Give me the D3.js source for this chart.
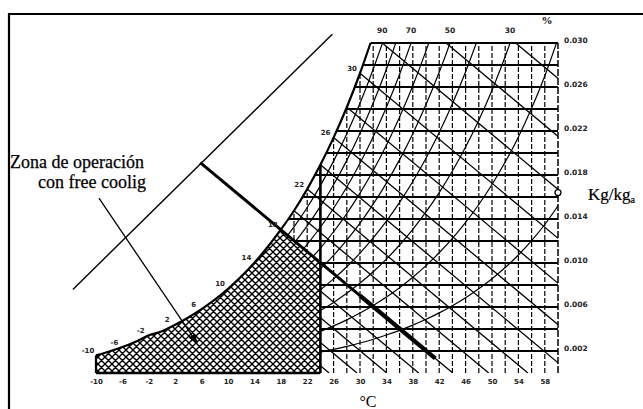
<!DOCTYPE html>
<html><head><meta charset="utf-8">
<script src="https://cdn.jsdelivr.net/npm/d3@7"></script>
<style>
html,body{margin:0;padding:0;background:#fff;}
svg{display:block;}
</style></head><body>
<svg id="c" width="643" height="409"></svg>
<script>
// ---------- data ----------
const satT = [-10,-8,-6,-4,-2,0,2,4,6,8,10,12,14,16,18,20,22,24,26,28,30,32,34,36,38,40,42,44,46,48,50,52,54,56,58,60];
const satW = [0.00160,0.00195,0.00236,0.00285,0.00342,0.00379,0.00438,0.00505,0.00580,0.00666,0.00766,0.00877,0.01003,0.01145,0.01303,0.01475,0.01672,0.01893,0.02140,0.02416,0.02725,0.03069,0.03452,0.03879,0.04352,0.04880,0.05467,0.06120,0.06848,0.07660,0.08570,0.09590,0.1073,0.1203,0.1350,0.1520];
const tempTicks = [-10,-6,-2,2,6,10,14,18,22,26,30,34,38,42,46,50,54,58];
const humTicks = [0.002,0.006,0.010,0.014,0.018,0.022,0.026,0.030];
const humLines = [0.002,0.004,0.006,0.008,0.010,0.012,0.014,0.016,0.018,0.020,0.022,0.024,0.026,0.028];
const dryBulbLines = [-8,-6,-4,-2,0,2,4,6,8,10,12,14,16,18,20,22,24,26,28,30,32,34,36,38,40,42,44,46,48,50,52,54,56,58];
const rhLevels = [0.1,0.2,0.3,0.4,0.5,0.6,0.7,0.8,0.9];
const rhLabels = [90,70,50,30];
const wetBulbLines = [-10,-8,-6,-4,-2,0,2,4,6,8,10,12,14,16,18,20,22,24,26,28,30,32,34,36];
const dewLabels = [-10,-6,-2,2,6,10,14,18,22,26,30];
const wetBulbSlope = 0.0005;       // kg/kg per °C
const limitT = 24;                 // free-cooling dry-bulb limit
const limitWetBulb = 18;           // free-cooling wet-bulb limit
const boldRange = [5.8, 30, 41.4];
const refLine = [[-13.5,0.0076],[25.8,0.0308]];
const arrowPts = [[-9.55,0.0159],[5.3,0.00273]];
const markerPoint = [60,0.0164];
const wTop = 0.030, tMin = -10, tMax = 60;

// ---------- scales ----------
const svg = d3.select("#c");
const x = d3.scaleLinear().domain([tMin,tMax]).range([96,558]);
const y = d3.scaleLinear().domain([0,wTop]).range([373,43]);

const wsat = T => {
  const i = Math.max(1, Math.min(satT.length-1, d3.bisectLeft(satT, T)));
  const t0 = satT[i-1], t1 = satT[i], f = (T-t0)/(t1-t0);
  return satW[i-1] + f*(satW[i]-satW[i-1]);
};
function crossT(factor, target){
  for (let i=1;i<satT.length;i++){
    const a=factor*satW[i-1], b=factor*satW[i];
    if (a<target && b>=target) return satT[i-1]+(target-a)/(b-a)*(satT[i]-satT[i-1]);
  }
  return null;
}
const wb = (twb, T) => wsat(twb) - wetBulbSlope*(T-twb);

const line = d3.line().x(d=>x(d[0])).y(d=>y(d[1]));
const curve = d3.line().x(d=>x(d[0])).y(d=>y(d[1])).curve(d3.curveMonotoneX);

const tSatTop = crossT(1, wTop);
const satPts = satT.map((t,i)=>[t,satW[i]]).filter(p=>p[1]<wTop);
satPts.push([tSatTop,wTop]);

const defs = svg.append("defs");
defs.append("clipPath").attr("id","region").append("path")
  .attr("d", curve(satPts)+`L${x(tMax)},${y(wTop)}L${x(tMax)},${y(0)}L${x(tMin)},${y(0)}Z`);
const pat = defs.append("pattern").attr("id","hatch").attr("patternUnits","userSpaceOnUse")
  .attr("width",7).attr("height",7);
pat.append("rect").attr("width",7).attr("height",7).attr("fill","#fff");
pat.append("path").attr("d","M-1,-1L8,8M8,-1L-1,8M6,-1L8,1M-1,6L1,8M1,-1L-1,1M8,6L6,8")
  .attr("stroke","#000").attr("stroke-width",1.4);
defs.append("marker").attr("id","ah").attr("markerUnits","userSpaceOnUse")
  .attr("markerWidth",12).attr("markerHeight",12).attr("refX",9).attr("refY",4)
  .attr("orient","auto").append("path").attr("d","M0,0L10,4L0,8Z").attr("fill","#000");

// ---------- frame ----------
svg.append("path").attr("d","M9,409L9,14L643,14").attr("fill","none").attr("stroke","#000").attr("stroke-width",2.2);

// ---------- clipped grid ----------
const g = svg.append("g").attr("clip-path","url(#region)").attr("fill","none").attr("stroke","#000");
g.selectAll(".db").data(dryBulbLines).join("path")
  .attr("d",t=>line([[t,0],[t,wTop]])).attr("stroke-width",1.2).attr("stroke-dasharray","5,2");
g.selectAll(".hl").data(humLines).join("path")
  .attr("d",w=>line([[tMin,w],[tMax,w]])).attr("stroke-width",1.8);
g.selectAll(".rh").data(rhLevels).join("path")
  .attr("d",r=>curve(satT.map((t,i)=>[t,r*satW[i]]))).attr("stroke-width",1.2);
g.selectAll(".wb").data(wetBulbLines).join("path")
  .attr("d",t=>line([[t,wsat(t)],[t+wsat(t)/wetBulbSlope,0]])).attr("stroke-width",1.3);

// ---------- hatched free-cooling zone ----------
const hatchPts = satPts.filter(p=>p[0]<=limitWetBulb);
svg.append("path")
  .attr("d", curve(hatchPts)+`L${x(limitT)},${y(wb(limitWetBulb,limitT))}L${x(limitT)},${y(0)}L${x(tMin)},${y(0)}Z`)
  .attr("fill","url(#hatch)");

// ---------- outlines ----------
const ol = svg.append("g").attr("fill","none").attr("stroke","#000");
ol.append("path").attr("d",curve(satPts)).attr("stroke-width",2.2);
ol.append("path").attr("d",line([[tSatTop,wTop],[tMax,wTop]])).attr("stroke-width",2);
ol.append("path").attr("d",line([[tMax,0],[tMax,wTop]])).attr("stroke-width",1.5).attr("stroke-dasharray","7,2");
ol.append("path").attr("d",line([[tMin,0],[tMin,wsat(tMin)]])).attr("stroke-width",2.2);
ol.append("path").attr("d",line([[tMin,0],[limitT,0]])).attr("stroke-width",2.6);
ol.append("path").attr("d",line([[limitT,0],[limitT,wsat(limitT)]])).attr("stroke-width",2.6);
ol.append("path").attr("d",line([[boldRange[0],wb(limitWetBulb,boldRange[0])],[boldRange[1],wb(limitWetBulb,boldRange[1])]])).attr("stroke-width",3);
ol.append("path").attr("d",line([[boldRange[1],wb(limitWetBulb,boldRange[1])],[boldRange[2],wb(limitWetBulb,boldRange[2])]])).attr("stroke-width",4.4);
ol.append("path").attr("d",line(refLine)).attr("stroke-width",1.4);
ol.append("path").attr("d",line(arrowPts)).attr("stroke-width",1.3).attr("marker-end","url(#ah)");
svg.append("circle").attr("cx",x(markerPoint[0])).attr("cy",y(markerPoint[1])).attr("r",3)
  .attr("fill","#fff").attr("stroke","#000").attr("stroke-width",1.3);

// ---------- axes / labels ----------
const num = "DejaVu Sans";
const xa = svg.append("g").attr("transform",`translate(0,${y(0)})`)
  .call(d3.axisBottom(x).tickValues(tempTicks).tickSize(0).tickPadding(6).tickFormat(d=>d));
xa.select(".domain").remove();
xa.selectAll("text").attr("font-family",num).attr("font-weight","bold").attr("font-size",7).attr("fill","#222");

const ya = svg.append("g").attr("transform",`translate(${x(tMax)+6},-3)`)
  .call(d3.axisRight(y).tickValues(humTicks).tickSize(0).tickPadding(0).tickFormat(d3.format(".3f")));
ya.select(".domain").remove();
ya.selectAll("text").attr("font-family",num).attr("font-weight","bold").attr("font-size",7.5).attr("fill","#222");

svg.selectAll(".rhl").data(rhLabels).join("text")
  .attr("x",r=>x(crossT(r/100,wTop))).attr("y",y(wTop)-10)
  .attr("text-anchor","middle").attr("font-family",num).attr("font-weight","bold")
  .attr("font-size",7.5).attr("fill","#222").text(r=>r);

svg.selectAll(".dl").data(dewLabels).join("text")
  .attr("x",t=>x(t)-8).attr("y",t=>y(wsat(t))-2.5)
  .attr("text-anchor","middle").attr("font-family",num).attr("font-weight","bold")
  .attr("font-size",7).attr("fill","#222").text(t=>t);

svg.append("text").attr("x",547).attr("y",24).attr("text-anchor","middle")
  .attr("font-family","Liberation Serif").attr("font-weight","bold").attr("font-size",11).text("%");

const serif = "Liberation Serif";
svg.append("text").attr("x",10).attr("y",168).attr("font-family",serif).attr("font-size",18)
  .attr("stroke","#000").attr("stroke-width",0.25).text("Zona de operación");
svg.append("text").attr("x",38).attr("y",188).attr("font-family",serif).attr("font-size",18)
  .attr("stroke","#000").attr("stroke-width",0.25).text("con free coolig");
const kg = svg.append("text").attr("x",588).attr("y",200).attr("font-family",serif).attr("font-size",17)
  .attr("stroke","#000").attr("stroke-width",0.2).text("Kg/kg");
kg.append("tspan").attr("font-size",10).attr("dy",3).text("a");
svg.append("text").attr("x",368).attr("y",407).attr("text-anchor","middle").attr("font-family",serif).attr("font-size",16).text("°C");
</script>
</body></html>
